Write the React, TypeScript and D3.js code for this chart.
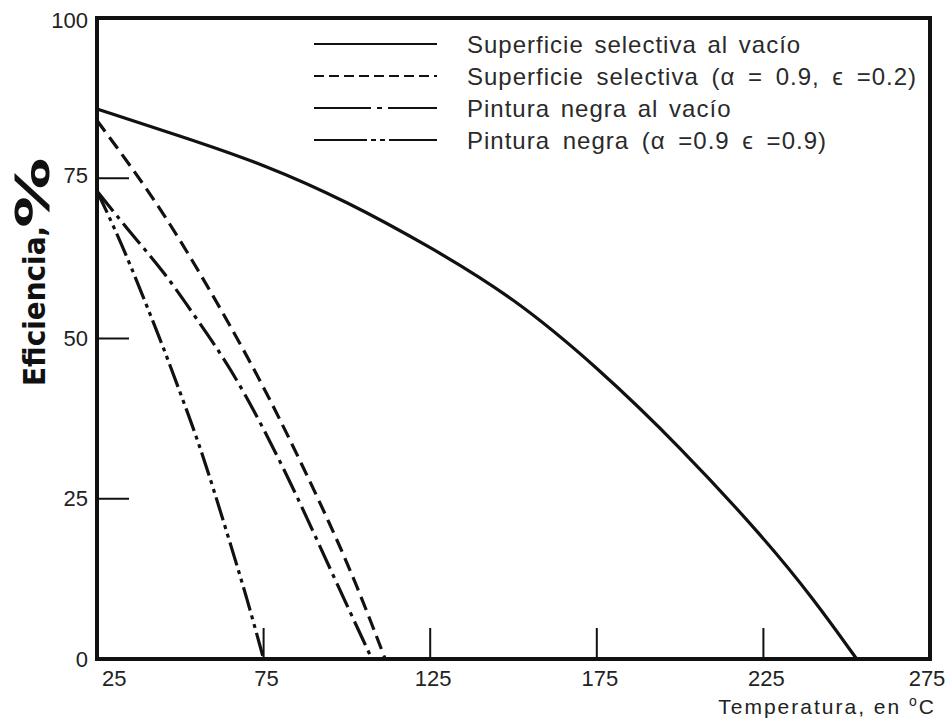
import * as d3 from "d3";

// Eficiencia (%) vs temperatura (°C)
const selVacT = [25, 50, 75, 100, 125, 150, 175, 200, 225, 240, 253];
const selVacE = [85.8, 81.6, 77.2, 71.4, 64.3, 56.4, 45.6, 33.1, 19, 9.4, 0];

const selT = [25, 35, 45, 55, 65, 75, 85, 95, 103, 111.5];
const selE = [84, 77, 69.5, 61, 52, 42.5, 32, 21, 11.5, 0];

const negVacT = [25, 35, 45, 55, 65, 75, 85, 95, 107.5];
const negVacE = [73, 66.5, 60.5, 53, 45.5, 36, 25.5, 14, 0];

const negT = [25, 30, 35, 40, 45, 50, 55, 60, 65, 70, 75];
const negE = [73, 67.5, 61.5, 55, 48.5, 41.5, 34.5, 26.5, 18, 9.5, 0];

const xTicks = [25, 75, 125, 175, 225, 275];
const yTicks = [0, 25, 50, 75, 100];

const legendLabels = [
	"Superficie selectiva al vacío",
	"Superficie selectiva (α = 0.9, ϵ =0.2)",
	"Pintura negra al vacío",
	"Pintura negra (α =0.9 ϵ =0.9)",
];

const W = 950;
const H = 722;
const left = 97;
const right = 930;
const top = 18;
const bottom = 659;

function App() {
	const x = d3.scaleLinear().domain([25, 275]).range([left, right]);
	const y = d3.scaleLinear().domain([0, 100]).range([bottom, top]);

	const line = d3
		.line<[number, number]>()
		.x((d) => x(d[0]))
		.y((d) => y(d[1]))
		.curve(d3.curveBasis);

	const series = [
		{ t: selVacT, e: selVacE, dash: "none", legendDash: "none" },
		{ t: selT, e: selE, dash: "14 7", legendDash: "10 5" },
		{ t: negVacT, e: negVacE, dash: "26 6 4 6", legendDash: "57 6 5 6 60" },
		{ t: negT, e: negE, dash: "24 5 4 5 4 5", legendDash: "53 4 5 4 5 4 60" },
	];

	const font = "'Liberation Sans', Arial, sans-serif";

	return (
		<svg
			width={W}
			height={H}
			style={{ position: "absolute", left: 0, top: 0, background: "#fff" }}
		>
			{series.map((s, i) => (
				<path
					key={i}
					d={line(s.t.map((t, j) => [t, s.e[j]] as [number, number])) || ""}
					fill="none"
					stroke="#111"
					strokeWidth={3.2}
					strokeDasharray={s.dash}
				/>
			))}

			{/* frame */}
			<rect
				x={left}
				y={top}
				width={right - left}
				height={bottom - top}
				fill="none"
				stroke="#111"
				strokeWidth={4}
			/>

			{/* y ticks */}
			{yTicks.slice(1, 4).map((v) => (
				<line key={v} x1={left} x2={left + 32} y1={y(v)} y2={y(v)} stroke="#111" strokeWidth={2} />
			))}
			{yTicks.map((v) => (
				<text
					key={v}
					x={88}
					y={y(v) + (v === 75 ? -3 : v === 100 ? 2 : 0)}
					textAnchor="end"
					dominantBaseline="central"
					fontFamily={font}
					fontSize={22}
					fill="#222"
				>
					{v}
				</text>
			))}

			{/* x ticks */}
			{xTicks.slice(1, 5).map((v) => (
				<line key={v} x1={x(v)} x2={x(v)} y1={bottom} y2={bottom - 31} stroke="#111" strokeWidth={2} />
			))}
			{xTicks.map((v, i) => (
				<text
					key={v}
					x={i === 0 ? x(v) + 5 : i === xTicks.length - 1 ? x(v) - 3 : x(v) + 3}
					y={686}
					textAnchor={i === 0 ? "start" : "middle"}
					fontFamily={font}
					fontSize={22}
					fill="#222"
				>
					{v}
				</text>
			))}

			{/* axis titles */}
			<text
				x={936}
				y={714}
				textAnchor="end"
				fontFamily={font}
				fontSize={21}
				letterSpacing={2}
				fill="#222"
			>
				Temperatura, en <tspan fontSize={14} dy={-8}>o</tspan>
				<tspan dy={8}>C</tspan>
			</text>
			<text
				transform="translate(45, 386) rotate(-90)"
				fontFamily="'DejaVu Sans Condensed', 'DejaVu Sans', sans-serif"
				fontWeight="bold"
				fontSize={31}
				fill="#111"
			>
				Eficiencia,
			</text>
			<text
				transform="translate(49, 228) rotate(-90) scale(1.7, 1)"
				fontFamily="'DejaVu Sans Condensed', 'DejaVu Sans', sans-serif"
				fontWeight="bold"
				fontSize={46}
				fill="#111"
			>
				%
			</text>

			{/* legend */}
			{series.map((s, i) => {
				const ly = 44 + i * 32;
				return (
					<g key={i}>
						<line
							x1={314}
							x2={437}
							y1={ly}
							y2={ly}
							stroke="#111"
							strokeWidth={2}
							strokeDasharray={s.legendDash}
						/>
						<text
							x={467}
							y={ly}
							dominantBaseline="central"
							fontFamily={font}
							fontSize={24}
							letterSpacing={1}
							wordSpacing={i % 2 === 1 ? 5 : 3}
							fill="#2a2a2a"
						>
							{legendLabels[i]}
						</text>
					</g>
				);
			})}
		</svg>
	);
}

export default App;
